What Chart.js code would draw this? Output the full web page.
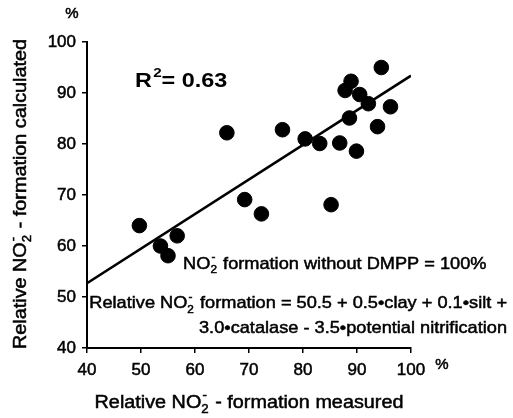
<!DOCTYPE html>
<html>
<head>
<meta charset="utf-8">
<script src="https://cdn.jsdelivr.net/npm/chart.js@4/dist/chart.umd.min.js"></script>
<style>
  html, body { margin: 0; padding: 0; background: #fff; }
  #wrap { width: 513px; height: 418px; }
</style>
</head>
<body>
<div id="wrap"><canvas id="chart" width="513" height="418"></canvas></div>
<script>
// values
const measured   = [49.7, 53.6, 55.0, 56.7, 65.9, 69.2, 72.3, 76.2, 80.4, 83.1, 85.2, 86.8, 87.8, 88.6, 88.9, 89.9, 90.5, 92.1, 93.8, 94.5, 96.2]
const calculated = [64.0, 60.0, 58.1, 62.0, 82.2, 69.1, 66.3, 82.8, 81.0, 80.1, 68.1, 80.2, 90.5, 85.1, 92.3, 78.6, 89.7, 87.9, 83.4, 95.0, 87.3]
const fitX = [40, 100]
const fitY = [52.7, 93.4]
const axisMin = 40
const axisMax = 100
const axisStep = 10

const FAMILY = '"Liberation Sans", Arial, sans-serif'

// text with NO2- style sub/superscripts
const xTitle = [{t: 'Relative NO'}, {sub: '2', sup: '-'}, {t: ' - formation measured'}]
const yTitle = [{t: 'Relative NO'}, {sub: '2', sup: '-'}, {t: ' - formation calculated'}]
const rText  = [{t: 'R'}, {sup: '2'}, {t: '= 0.63'}]
const note1  = [{t: 'NO'}, {sub: '2', sup: '-'}, {t: ' formation without DMPP = 100%'}]
const note2  = [{t: 'Relative NO'}, {sub: '2', sup: '-'}, {t: ' formation = 50.5 + 0.5\u2022clay + 0.1\u2022silt +'}]
const note3  = [{t: '3.0\u2022catalase - 3.5\u2022potential nitrification'}]

function drawRich(ctx, runs, x, y, o){
    const size = o.size
    const weight = o.bold ? 'bold ' : ''
    const big = weight + size + 'px ' + FAMILY
    const sm = weight + Math.round(size * 0.64) + 'px ' + FAMILY
    let w = 0
    runs.forEach(r => {
        if(r.t){
            ctx.font = big
            r.w = ctx.measureText(r.t).width
        } else {
            ctx.font = sm
            r.w = Math.max(ctx.measureText(r.sub || '').width, ctx.measureText(r.sup || '').width) + 1
        }
        w += r.w
    })
    ctx.save()
    ctx.translate(x, y)
    if(o.rotate) ctx.rotate(o.rotate)
    ctx.scale(o.sx || 1, 1)
    let cx = o.align == 'right' ? -w : (o.align == 'center' ? -w / 2 : 0)
    ctx.textBaseline = 'middle'
    ctx.textAlign = 'left'
    ctx.fillStyle = '#000'
    ctx.strokeStyle = '#000'
    ctx.lineWidth = o.bold ? 0 : 0.5
    const put = (s, px, py) => {
        ctx.fillText(s, px, py)
        if(!o.bold) ctx.strokeText(s, px, py)
    }
    runs.forEach(r => {
        if(r.t){
            ctx.font = big
            put(r.t, cx, 0)
        } else {
            ctx.font = sm
            if(r.sub) put(r.sub, cx, size * 0.36)
            if(r.sup) put(r.sup, cx + 1, -size * 0.40)
        }
        cx += r.w
    })
    ctx.restore()
}

const textPlugin = {
    id: 'texts',
    afterDraw(chart){
        const ctx = chart.ctx
        const xs = chart.scales.x
        const ys = chart.scales.y
        const area = chart.chartArea

        drawRich(ctx, xTitle, (area.left + area.right) / 2, 403, {size: 18, sx: 1.1, align: 'center'})
        drawRich(ctx, yTitle, 21, (area.top + area.bottom) / 2 - 1, {size: 18, sx: 1.1, align: 'center', rotate: -Math.PI / 2})

        drawRich(ctx, rText, xs.getPixelForValue(48.9), ys.getPixelForValue(92.3), {size: 20, bold: true, sx: 1.17})
        drawRich(ctx, note1, xs.getPixelForValue(57.8), ys.getPixelForValue(56.5), {size: 17, sx: 1.07})
        drawRich(ctx, note2, 507, ys.getPixelForValue(48.7), {size: 17, sx: 1.07, align: 'right'})
        drawRich(ctx, note3, 507, ys.getPixelForValue(43.9), {size: 17, sx: 1.07, align: 'right'})

        // unit marks
        drawRich(ctx, [{t: '%'}], 72, 14, {size: 15, align: 'center'})
        drawRich(ctx, [{t: '%'}], 442, 365, {size: 15, align: 'center'})
    }
}

function initChart(){
    const ctx = document.getElementById('chart').getContext('2d')

    Chart.defaults.font.family = FAMILY
    Chart.defaults.color = '#000'

    const scaleOpts = (isY) => ({
        type: 'linear',
        min: axisMin,
        max: axisMax,
        ticks: {
            stepSize: axisStep,
            padding: isY ? 6 : 7,
            font: {size: 17},
            color: '#000',
            textStrokeColor: '#000',
            textStrokeWidth: 0.5
        },
        grid: {
            display: true,
            drawOnChartArea: false,
            drawTicks: true,
            tickLength: 5,
            color: '#000',
            lineWidth: 1.5
        },
        border: {display: true, color: '#000', width: 2},
        afterFit: (scale) => {
            if(isY) scale.width = 87
            else scale.height = 70
        }
    })

    new Chart(ctx, {
        type: 'scatter',
        data: {
            datasets: [{
                label: 'points',
                data: measured.map((m, i) => ({x: m, y: calculated[i]})),
                backgroundColor: '#000',
                borderColor: '#000',
                pointRadius: 7.3,
                pointHoverRadius: 7.3
            }, {
                label: 'fit',
                type: 'line',
                data: fitX.map((v, i) => ({x: v, y: fitY[i]})),
                borderColor: '#000',
                borderWidth: 2.5,
                pointRadius: 0,
                fill: false
            }]
        },
        options: {
            responsive: false,
            animation: false,
            layout: {padding: {top: 42, right: 102, left: 0, bottom: 0}},
            plugins: {
                legend: {display: false},
                tooltip: {enabled: false}
            },
            scales: {
                x: scaleOpts(false),
                y: scaleOpts(true)
            }
        },
        plugins: [textPlugin]
    })
}

document.addEventListener('DOMContentLoaded', () => {
    initChart()
})
</script>
</body>
</html>
